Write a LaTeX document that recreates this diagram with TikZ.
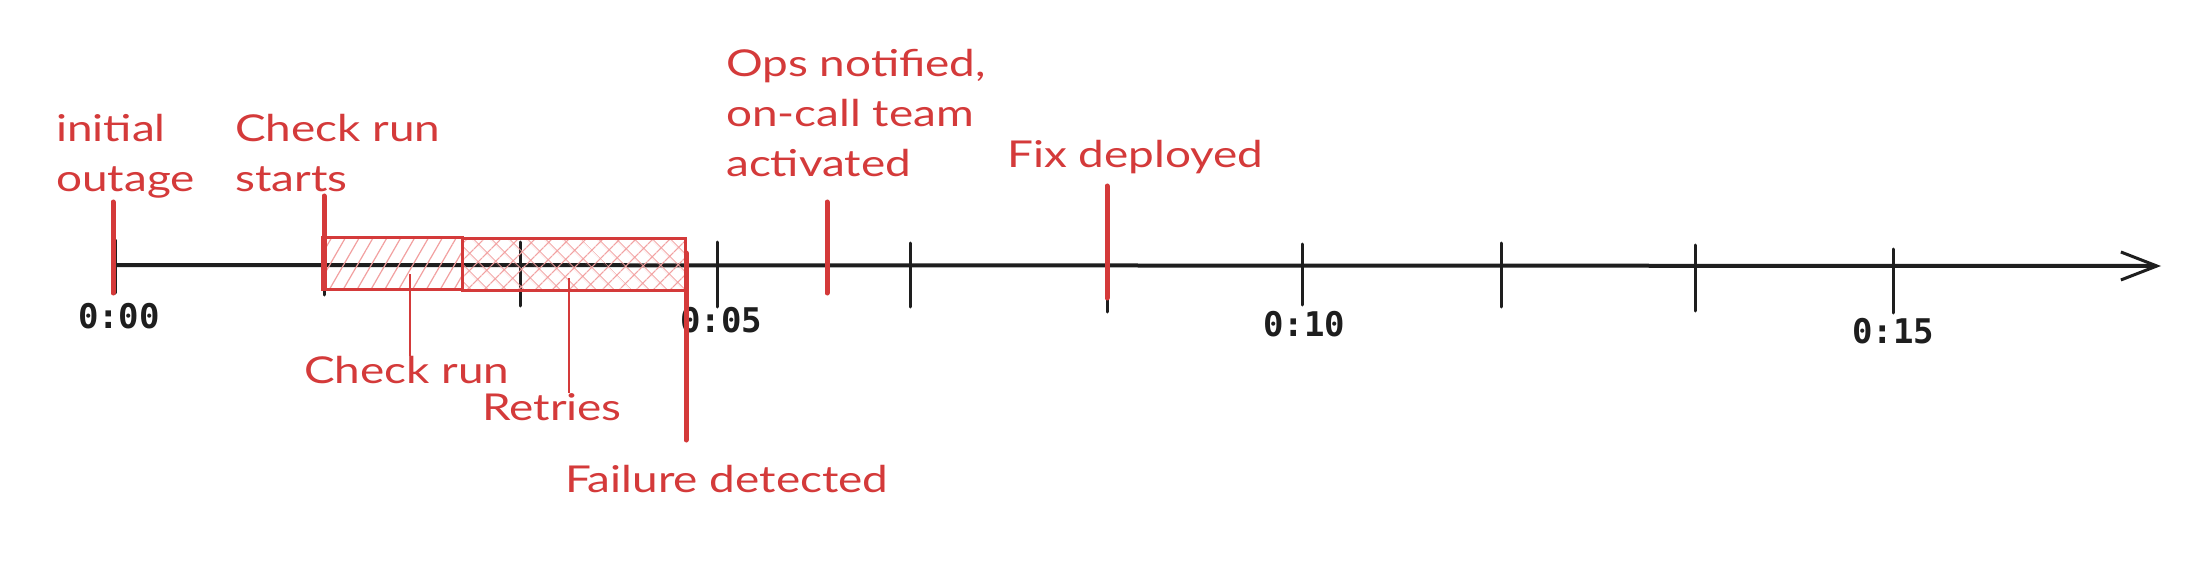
\documentclass[tikz,border=0pt]{standalone}
\usepackage{fontspec}
\setmainfont{Lato}[FakeStretch=1.24]
\setmonofont{DejaVu Sans Mono}
\usetikzlibrary{arrows.meta,patterns.meta}
\definecolor{exred}{RGB}{212,58,58}
\definecolor{hatchred}{RGB}{242,160,160}
\definecolor{ink}{RGB}{30,30,30}
\tikzset{
  axisline/.style={draw=ink, line width=4pt, -{Straight Barb[length=36pt,width=28pt,line width=3pt]}},
  tickline/.style={draw=ink, line width=3pt, line cap=round},
  eventline/.style={draw=exred, line width=5pt, line cap=round},
  leaderline/.style={draw=exred, line width=2.8pt},
  redlabel/.style={text=exred, font=\fontsize{37}{50}\selectfont, inner sep=0pt, align=left},
  ticklabel/.style={text=ink, font=\ttfamily\bfseries\fontsize{34}{40}\selectfont, inner sep=0pt},
  spanbox/.style={draw=exred, line width=3pt, inner sep=0pt, minimum height=52pt},
}
\begin{document}
\begin{tikzpicture}[x=1pt,y=-1pt]
\useasboundingbox[fill=white] (0,0) rectangle (2208,572);
% axis
\coordinate (axstart) at (117,265);
\coordinate (axend) at (2161,266);
\draw[axisline] (axstart) -- (axend);
% ticks
\foreach \x/\a/\b in {115/240/293, 324/240/295, 520/242/306, 717/242/307, 910/243/307, 1107/245/312, 1302/244/305, 1501/243/307, 1695/245/311, 1893/249/313}
  \draw[tickline] (\x,\a) -- (\x,\b);
% tick labels
\node[ticklabel] (t0) at (119,316) {0:00};
\node[ticklabel] (t5) at (721,320) {0:05};
\node[ticklabel] (t10) at (1304,324) {0:10};
\node[ticklabel] (t15) at (1893,331) {0:15};
% span boxes
\node[spanbox, minimum width=140pt, pattern={Lines[angle=60,distance=12pt,line width=1.2pt]}, pattern color=hatchred] (crbox) at (392,263) {};
\node[spanbox, minimum width=223pt, pattern={Hatch[angle=45,distance=13pt,line width=1.2pt]}, pattern color=hatchred] (retbox) at (573.5,264) {};
% event marks
\draw[eventline] (113,202) -- (113,293);
\draw[eventline] (324,196) -- (324,288);
\draw[eventline] (686,253) -- (686,440);
\draw[eventline] (827,202) -- (827,293);
\draw[eventline] (1107,186) -- (1107,298);
% labels (base anchor = baseline of last line)
\node[redlabel, anchor=base west] (lout) at (56,192) {initial\\outage};
\node[redlabel, anchor=base west] (lcrs) at (235,192) {Check run\\starts};
\node[redlabel, anchor=base west] (lops) at (726,177) {Ops notified,\\on-call team\\activated};
\node[redlabel, anchor=base west] (lfix) at (1007,168) {Fix deployed};
\node[redlabel, anchor=base west] (lcr) at (304,383) {Check run};
\node[redlabel, anchor=base west] (lret) at (482,420) {Retries};
\node[redlabel, anchor=base west] (lfail) at (565,492) {Failure detected};
% leaders
\coordinate (crl) at (410,274);
\coordinate (retl) at (569,278);
\draw[leaderline] (crl) -- (crl |- lcr.north);
\draw[leaderline] (retl) -- (retl |- lret.north);
\end{tikzpicture}
\end{document}
